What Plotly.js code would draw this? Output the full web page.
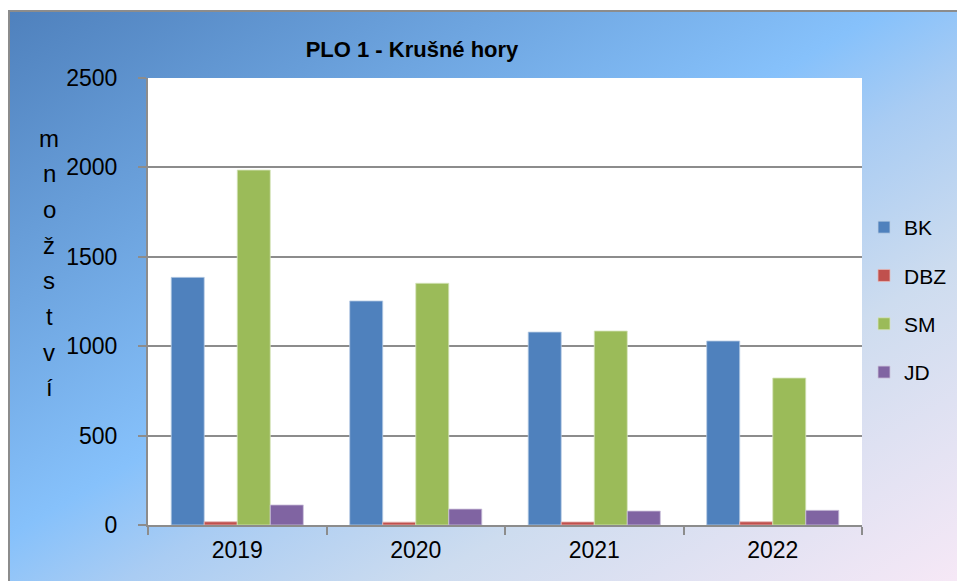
<!DOCTYPE html>
<html>
<head>
<meta charset="utf-8">
<script src="https://cdn.plot.ly/plotly-3.0.1.min.js"></script>
<style>
  html, body { margin: 0; padding: 0; width: 957px; height: 581px; background: #ffffff; overflow: hidden; }
  #bg { position: absolute; left: 8px; top: 10px; width: 949px; height: 571px;
        border-top: 2px solid #8c8c8c; border-left: 2px solid #8c8c8c; box-sizing: border-box;
        background: linear-gradient(to bottom right, #4f81bd 0%, #86c1fb 46%, #a9ccf3 56%, #cddcef 72%, #f6e8f6 100%); }
  #chart { position: absolute; left: 0; top: 0; width: 957px; height: 581px; }
</style>
</head>
<body>
<div id="bg"></div>
<div id="chart"></div>
<script>
const years = ['2019', '2020', '2021', '2022'];
const seriesNames = ['BK', 'DBZ', 'SM', 'JD'];
const BK = [1385, 1253, 1079, 1029];
const DBZ = [18, 16, 17, 18];
const SM = [1985, 1352, 1085, 822];
const JD = [112, 89, 78, 82];
const yTickVals = [0, 500, 1000, 1500, 2000, 2500];
const chartTitle = 'PLO 1 - Krušné hory';
const yTitleLetters = ['m', 'n', 'o', 'ž', 's', 't', 'v', 'í'];

const colors = ['#4f81bd', '#c0504d', '#9bbb59', '#8064a2'];
const edgeColors = ['#b9cde5', '#e6b9b8', '#d7e4bd', '#ccc1da'];
const values = [BK, DBZ, SM, JD];

const traces = seriesNames.map((name, i) => ({
  type: 'bar',
  name: name,
  x: years,
  y: values[i],
  legendgroup: name,
  marker: { color: colors[i], line: { color: edgeColors[i], width: 0.8 } },
  hoverinfo: 'x+y+name'
}));

const W = 957, H = 581;
const mL = 148, mR = 95, mT = 78, mB = 56;
const plotH = H - mT - mB;
const FONT = 'Liberation Sans, Arial, sans-serif';

const annotations = yTitleLetters.map((ch, i) => ({
  text: ch,
  xref: 'paper', yref: 'paper',
  x: (49 - mL) / (W - mL - mR),
  y: (H - mB - (138 + i * 35.7)) / plotH,
  xanchor: 'center', yanchor: 'middle',
  showarrow: false,
  font: { family: FONT, size: 24, color: '#000000' }
}));

const layout = {
  width: W, height: H,
  margin: { l: mL, r: mR, t: mT, b: mB, pad: 0, autoexpand: false },
  paper_bgcolor: 'rgba(0,0,0,0)',
  plot_bgcolor: '#ffffff',
  font: { family: FONT, size: 23, color: '#000000' },
  title: {
    text: '<b>' + chartTitle + '</b>',
    xref: 'container', yref: 'container',
    x: 412 / W, y: 1 - 49 / H,
    xanchor: 'center', yanchor: 'middle',
    font: { family: FONT, size: 22, color: '#000000' }
  },
  barmode: 'group',
  bargap: 0.26,
  bargroupgap: 0,
  xaxis: {
    type: 'category',
    showline: true, linecolor: '#8c8c8c', linewidth: 2,
    ticks: 'outside', tickson: 'boundaries', ticklen: 8, tickwidth: 2, tickcolor: '#8c8c8c',
    ticklabelstandoff: 3,
    showgrid: false, zeroline: false,
    tickfont: { size: 23, color: '#000000' }
  },
  yaxis: {
    range: [0, 2500],
    tickvals: yTickVals,
    showline: true, linecolor: '#8c8c8c', linewidth: 2,
    ticks: 'outside', ticklen: 8, tickwidth: 2, tickcolor: '#8c8c8c',
    ticklabelstandoff: 16,
    showgrid: true, gridcolor: '#8c8c8c', gridwidth: 2,
    zeroline: false,
    tickfont: { size: 23, color: '#000000' }
  },
  legend: {
    x: (864 - mL) / (W - mL - mR), xanchor: 'left',
    y: (H - mB - 207) / plotH, yanchor: 'top',
    bgcolor: 'rgba(0,0,0,0)',
    tracegroupgap: 18,
    font: { size: 21, color: '#000000' }
  },
  annotations: annotations,
  showlegend: true
};

Plotly.newPlot('chart', traces, layout, { displayModeBar: false, responsive: false });
</script>
</body>
</html>
